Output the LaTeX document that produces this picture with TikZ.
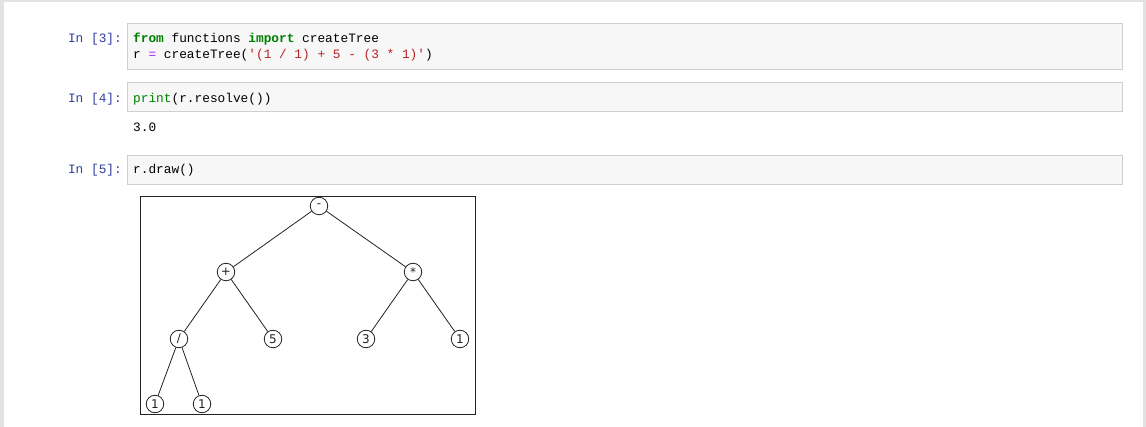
\documentclass[tikz,border=0pt]{standalone}
\usepackage{fontspec}
\setmonofont{Liberation Mono}
\newfontfamily\treefont{DejaVu Sans}
\definecolor{outerbg}{HTML}{E2E2E2}
\definecolor{cellbg}{HTML}{F7F7F7}
\definecolor{cellborder}{HTML}{CFCFCF}
\definecolor{prompt}{HTML}{303F9F}
\definecolor{kw}{HTML}{008000}
\definecolor{op}{HTML}{AA22FF}
\definecolor{str}{HTML}{BA2121}
\definecolor{treeink}{HTML}{222222}
\begin{document}
\begin{tikzpicture}[x=1pt,y=-1pt,
  cellbox/.style={draw=cellborder,fill=cellbg,line width=0.8pt},
  code/.style={anchor=base west,inner sep=0pt,font=\ttfamily\fontsize{12.8}{15}\selectfont},
  promptlabel/.style={anchor=base east,inner sep=0pt,text=prompt,font=\ttfamily\fontsize{12.8}{15}\selectfont},
  tn/.style={circle,draw=treeink,line width=0.8pt,minimum size=17.5pt,inner sep=0pt,text=treeink,font=\treefont\fontsize{12}{13}\selectfont},
  edge/.style={line width=0.8pt,draw=treeink}]
\useasboundingbox (0,0) rectangle (1146,427);
\fill[outerbg] (0,0) rectangle (1146,427);
\fill[white] (4,2) rectangle (1143,427);
% cells
\draw[cellbox] (127,23) rectangle (1122,69);
\draw[cellbox] (127,82) rectangle (1122,111);
\draw[cellbox] (127,155) rectangle (1122,184);
% prompts
\node[promptlabel] (p3) at (122,43) {In [3]:};
\node[promptlabel] (p4) at (122,103) {In [4]:};
\node[promptlabel] (p5) at (122,174) {In [5]:};
% code
\node[code] (c1) at (133,43) {\textcolor{kw}{\bfseries from} functions \textcolor{kw}{\bfseries import} createTree};
\node[code] (c2) at (133,59) {r \textcolor{op}{=} createTree(\textcolor{str}{'(1 / 1) + 5 - (3 * 1)'})};
\node[code] (c3) at (133,103) {\textcolor{kw}{print}(r.resolve())};
\node[code] (o4) at (133,132) {3.0};
\node[code] (c5) at (133,174) {r.draw()};
% tree frame
\draw[line width=0.8pt,draw=treeink] (140,196) rectangle (475,414);
% tree nodes
\node[tn] (m) at (319,206) {-};
\node[tn] (pl) at (226,272) {+};
\node[tn] (st) at (413,272) {*};
\node[tn] (dv) at (179,339) {/};
\node[tn] (f5) at (273,339) {5};
\node[tn] (t3) at (366,339) {3};
\node[tn] (o1) at (460,339) {1};
\node[tn] (a1) at (155,404) {1};
\node[tn] (b1) at (202,404) {1};
\draw[edge] (m) -- (pl);
\draw[edge] (m) -- (st);
\draw[edge] (pl) -- (dv);
\draw[edge] (pl) -- (f5);
\draw[edge] (st) -- (t3);
\draw[edge] (st) -- (o1);
\draw[edge] (dv) -- (a1);
\draw[edge] (dv) -- (b1);
\end{tikzpicture}
\end{document}
